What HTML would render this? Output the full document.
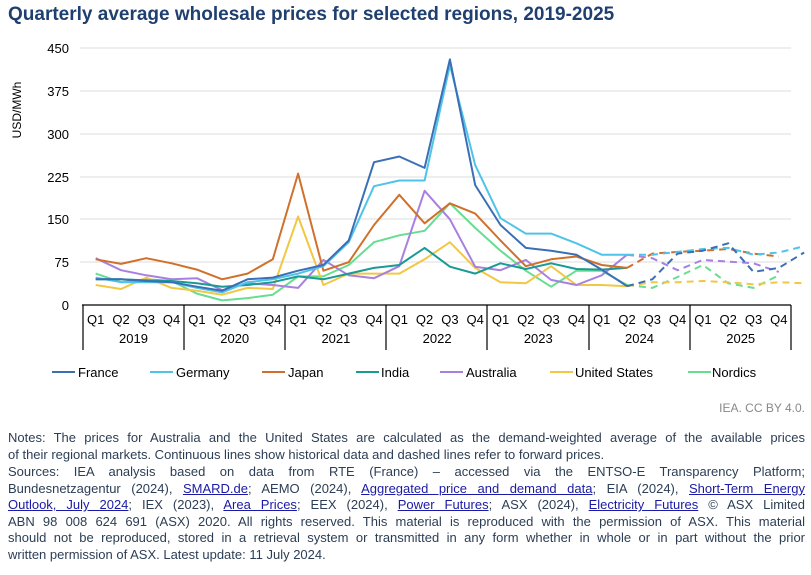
<!DOCTYPE html>
<html><head><meta charset="utf-8"><style>
body{margin:0;width:811px;height:575px;background:#fff;font-family:"Liberation Sans",Arial,sans-serif;overflow:hidden;position:relative}
.t{position:absolute;left:8px;top:4px;font-size:19px;font-weight:bold;color:#1f3f70}
.n{position:absolute;left:8px;width:797px;font-size:13px;color:#2c3e55;line-height:16.5px}
.n div{text-align:justify;text-align-last:justify;white-space:nowrap;overflow:visible}
.n div.l{text-align-last:left}
a{color:#1a1aa6;text-decoration:underline}
</style></head><body>
<div class="t">Quarterly average wholesale prices for selected regions, 2019-2025</div>
<svg width="811" height="420" style="position:absolute;left:0;top:0" font-family="Liberation Sans,Arial,sans-serif">
<g stroke="#dcdcdc" stroke-width="1">
<line x1="80" x2="791" y1="48" y2="48"/><line x1="80" x2="791" y1="91" y2="91"/><line x1="80" x2="791" y1="134" y2="134"/><line x1="80" x2="791" y1="177" y2="177"/><line x1="80" x2="791" y1="219" y2="219"/><line x1="80" x2="791" y1="262" y2="262"/></g>
<g font-size="13" fill="#000" text-anchor="end">
<text x="69" y="53">450</text><text x="69" y="96">375</text><text x="69" y="139">300</text><text x="69" y="182">225</text><text x="69" y="224">150</text><text x="69" y="267">75</text><text x="69" y="310">0</text></g>
<text transform="translate(21,110) rotate(-90)" font-size="12" text-anchor="middle">USD/MWh</text>
<g stroke="#000" stroke-width="1.2">
<line x1="82" x2="791" y1="305" y2="305"/>
<line x1="83" x2="83" y1="305" y2="350"/><line x1="184" x2="184" y1="305" y2="350"/><line x1="285" x2="285" y1="305" y2="350"/><line x1="386" x2="386" y1="305" y2="350"/><line x1="487" x2="487" y1="305" y2="350"/><line x1="589" x2="589" y1="305" y2="350"/><line x1="690" x2="690" y1="305" y2="350"/><line x1="791" x2="791" y1="305" y2="350"/></g>
<g font-size="13" text-anchor="middle" id="ax"></g>
<g id="ser" fill="none" stroke-width="2" stroke-linejoin="round"></g>
<g font-size="13" fill="#000">
<line x1="52" x2="75" y1="372" y2="372" stroke="#3a6fb5" stroke-width="2"/><text x="78" y="377">France</text>
<line x1="150" x2="173" y1="372" y2="372" stroke="#4fc3e8" stroke-width="2"/><text x="176" y="377">Germany</text>
<line x1="262" x2="285" y1="372" y2="372" stroke="#d0702a" stroke-width="2"/><text x="288" y="377">Japan</text>
<line x1="356" x2="379" y1="372" y2="372" stroke="#1a9a94" stroke-width="2"/><text x="381" y="377">India</text>
<line x1="440" x2="463" y1="372" y2="372" stroke="#a880e0" stroke-width="2"/><text x="466" y="377">Australia</text>
<line x1="550" x2="573" y1="372" y2="372" stroke="#f2c744" stroke-width="2"/><text x="575" y="377">United States</text>
<line x1="688" x2="711" y1="372" y2="372" stroke="#66dd90" stroke-width="2"/><text x="712" y="377">Nordics</text>
</g>
<text x="805" y="412" font-size="12" fill="#888" text-anchor="end">IEA. CC BY 4.0.</text>
</svg>
<div class="n" style="top:430px">
<div>Notes: The prices for Australia and the United States are calculated as the demand-weighted average of the available prices</div>
<div class="l">of their regional markets. Continuous lines show historical data and dashed lines refer to forward prices.</div>
</div>
<div class="n" style="top:464px">
<div>Sources: IEA analysis based on data from RTE (France) – accessed via the ENTSO-E Transparency Platform;</div>
<div>Bundesnetzagentur (2024), <a>SMARD.de</a>; AEMO (2024), <a>Aggregated price and demand data</a>; EIA (2024), <a>Short-Term Energy</a></div>
<div><a>Outlook, July 2024</a>; IEX (2023), <a>Area Prices</a>; EEX (2024), <a>Power Futures</a>; ASX (2024), <a>Electricity Futures</a> © ASX Limited</div>
<div>ABN 98 008 624 691 (ASX) 2020. All rights reserved. This material is reproduced with the permission of ASX. This material</div>
<div>should not be reproduced, stored in a retrieval system or transmitted in any form whether in whole or in part without the prior</div>
<div class="l">written permission of ASX. Latest update: 11 July 2024.</div>
</div>
<script>
var NS="http://www.w3.org/2000/svg";
function X(i){return 95.7+25.3*i}function Y(v){return 305-v*0.5711}
var ax=document.getElementById("ax");
for(var i=0;i<28;i++){var t=document.createElementNS(NS,"text");t.setAttribute("x",X(i));t.setAttribute("y",324);t.textContent="Q"+(i%4+1);ax.appendChild(t);}
for(var y=0;y<7;y++){var t=document.createElementNS(NS,"text");t.setAttribute("x",133.5+101.2*y);t.setAttribute("y",343);t.textContent=2019+y;ax.appendChild(t);}
var S=[
["#66dd90",[55,40,45,42,20,8,12,18,50,50,70,110,122,130,178,135,95,60,32,60,60,35],[35,30,49,70,38,30,52]],
["#f2c744",[35,28,48,30,25,18,30,28,155,35,55,55,55,80,110,65,40,38,68,35,35,33],[33,40,40,42,40,36,40,38]],
["#a880e0",[82,61,52,45,47,26,38,35,30,79,52,47,68,200,150,67,61,79,44,35,52,88],[88,82,61,79,76,73,58]],
["#1a9a94",[45,45,43,42,38,32,35,40,50,45,55,65,70,100,67,55,73,63,73,63,62,65],null],
["#d0702a",[80,72,82,73,62,45,55,80,230,60,75,140,193,143,178,160,113,68,80,85,70,65],[65,90,93,95,98,90,85]],
["#4fc3e8",[48,40,40,40,30,22,40,45,55,68,110,208,218,218,420,245,152,125,125,108,88,88],[88,88,93,98,100,88,92,103]],
["#3a6fb5",[45,45,42,40,32,25,45,48,60,70,113,250,260,240,430,210,140,100,95,88,62,33],[33,45,90,95,108,58,65,92]]];
var g=document.getElementById("ser");
S.forEach(function(s){var p=s[1].map(function(v,i){return X(i).toFixed(1)+","+Y(v).toFixed(1)}).join(" ");
var e=document.createElementNS(NS,"polyline");e.setAttribute("points",p);e.setAttribute("stroke",s[0]);g.appendChild(e);
if(s[2]){var p2=s[2].map(function(v,i){return X(21+i).toFixed(1)+","+Y(v).toFixed(1)}).join(" ");
var d=document.createElementNS(NS,"polyline");d.setAttribute("points",p2);d.setAttribute("stroke",s[0]);d.setAttribute("stroke-dasharray","7,5");g.appendChild(d);}});
</script>
</body></html>
